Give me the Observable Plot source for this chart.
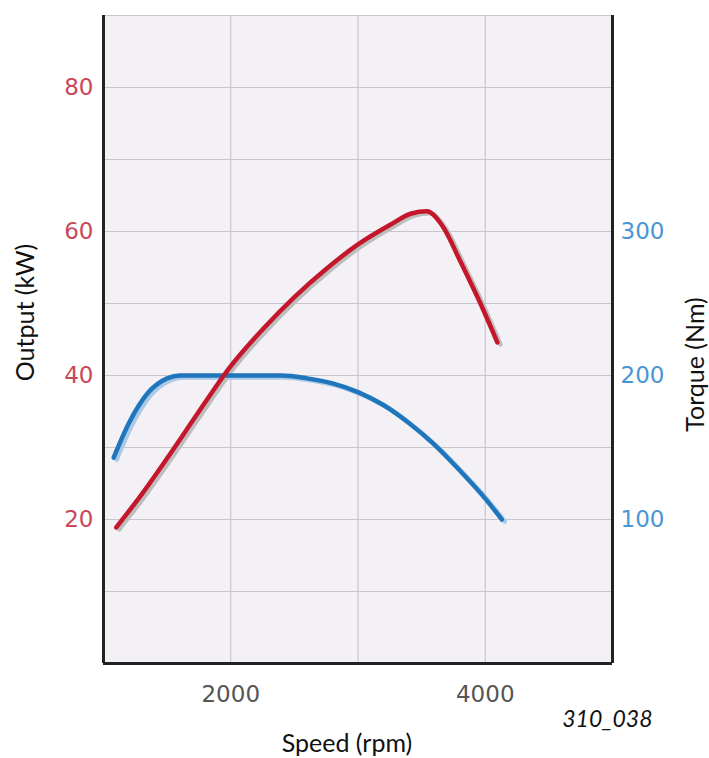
<!DOCTYPE html>
<html>
<head>
<meta charset="utf-8">
<script src="https://cdn.jsdelivr.net/npm/d3@7"></script>
<script src="https://cdn.jsdelivr.net/npm/@observablehq/plot@0.6"></script>
<style>
  html, body { margin: 0; padding: 0; background: #ffffff; }
  #chart { width: 709px; height: 758px; }
</style>
</head>
<body>
<div id="chart"></div>
<script>
// Output (power) curve: speed in rpm, output in kW
const powerSpeed = [1100, 1300, 1500, 1750, 2000, 2250, 2500, 2750, 3000, 3250, 3420, 3540, 3670, 3800, 3985, 4095];
const powerKW    = [18.9, 23.5, 28.5, 35.0, 41.3, 46.4, 50.9, 54.8, 58.2, 60.9, 62.5, 62.8, 60.6, 56.0, 49.1, 44.6];

// Torque curve: speed in rpm, torque in Nm
const torqueSpeed = [1080, 1200, 1350, 1500, 1600, 2000, 2400, 2600, 2800, 3000, 3200, 3400, 3600, 3800, 4000, 4130];
const torqueNm    = [143, 167, 188, 198, 200, 200, 200, 198, 194.5, 188.5, 179.5, 167, 152, 134, 114.5, 100];

// Tick / grid values
const rpmTicks = [2000, 4000];
const rpmGrid = [2000, 3000, 4000];
const kwTicks = [20, 40, 60, 80];
const kwGrid = [10, 20, 30, 40, 50, 60, 70, 80, 90];
const nmTicks = [100, 200, 300];

// Torque axis shares the frame: 5 Nm per kW of the left scale
const NM_PER_KW = 5;

const power = powerSpeed.map((s, i) => ({speed: s, value: powerKW[i]}));
const torque = torqueSpeed.map((s, i) => ({speed: s, value: torqueNm[i] / NM_PER_KW}));

const titleFont = "Lato, 'Noto Sans', sans-serif";
const tickFont = "'DejaVu Sans', sans-serif";

const chart = Plot.plot({
  width: 709,
  height: 758,
  marginLeft: 103,
  marginRight: 97,
  marginTop: 15,
  marginBottom: 95,
  x: {domain: [1000, 5000]},
  y: {domain: [0, 90]},
  style: {fontFamily: tickFont, background: "#ffffff"},
  marks: [
    Plot.frame({fill: "#f4f1f6", stroke: null}),
    Plot.ruleY(kwGrid, {stroke: "#c9c5cd", strokeWidth: 1.2}),
    Plot.ruleX(rpmGrid, {stroke: "#c9c5cd", strokeWidth: 1.2}),
    // shadows
    Plot.line(torque, {x: "speed", y: "value", stroke: "#a9c9e6", strokeWidth: 4.5, curve: "monotone-x", dx: 3, dy: 2}),
    Plot.line(power, {x: "speed", y: "value", stroke: "#bdbdbd", strokeWidth: 4.5, curve: "monotone-x", dx: 3, dy: 2}),
    // curves
    Plot.line(torque, {x: "speed", y: "value", stroke: "#1f76bd", strokeWidth: 4.5, curve: "monotone-x"}),
    Plot.line(power, {x: "speed", y: "value", stroke: "#c4172c", strokeWidth: 4.5, curve: "monotone-x"}),
    // frame lines
    Plot.ruleX([1000, 5000], {stroke: "#222", strokeWidth: 3}),
    Plot.ruleY([0], {stroke: "#222", strokeWidth: 3}),
    // axes
    Plot.axisX(rpmTicks, {tickSize: 0, tickPadding: 22, fontSize: 23, fill: "#555", label: null, tickFormat: d => String(d)}),
    Plot.axisY(kwTicks, {anchor: "left", tickSize: 0, tickPadding: 10, fontSize: 23, fill: "#c8485a", label: null}),
    Plot.axisY(nmTicks.map(d => d / NM_PER_KW), {anchor: "right", tickSize: 0, tickPadding: 8, fontSize: 23, fill: "#4896d4", label: null, tickFormat: d => String(d * NM_PER_KW)}),
    // titles
    Plot.text(["Output (kW)"], {frameAnchor: "left", textAnchor: "middle", lineAnchor: "middle", dx: -78, dy: -27, rotate: -90, fontSize: 25, fill: "#111", fontFamily: titleFont}),
    Plot.text(["Torque (Nm)"], {frameAnchor: "right", textAnchor: "middle", lineAnchor: "middle", dx: 83, dy: 25, rotate: -90, fontSize: 25, fill: "#111", fontFamily: titleFont}),
    Plot.text(["Speed (rpm)"], {frameAnchor: "bottom", textAnchor: "middle", lineAnchor: "middle", dx: -11, dy: 80, fontSize: 25, fill: "#111", fontFamily: titleFont}),
    Plot.text(["310_038"], {frameAnchor: "bottom-right", textAnchor: "end", lineAnchor: "middle", dx: 40, dy: 56, fontSize: 23, fontStyle: "italic", fill: "#111", fontFamily: titleFont})
  ]
});

document.getElementById("chart").append(chart);
</script>
</body>
</html>
